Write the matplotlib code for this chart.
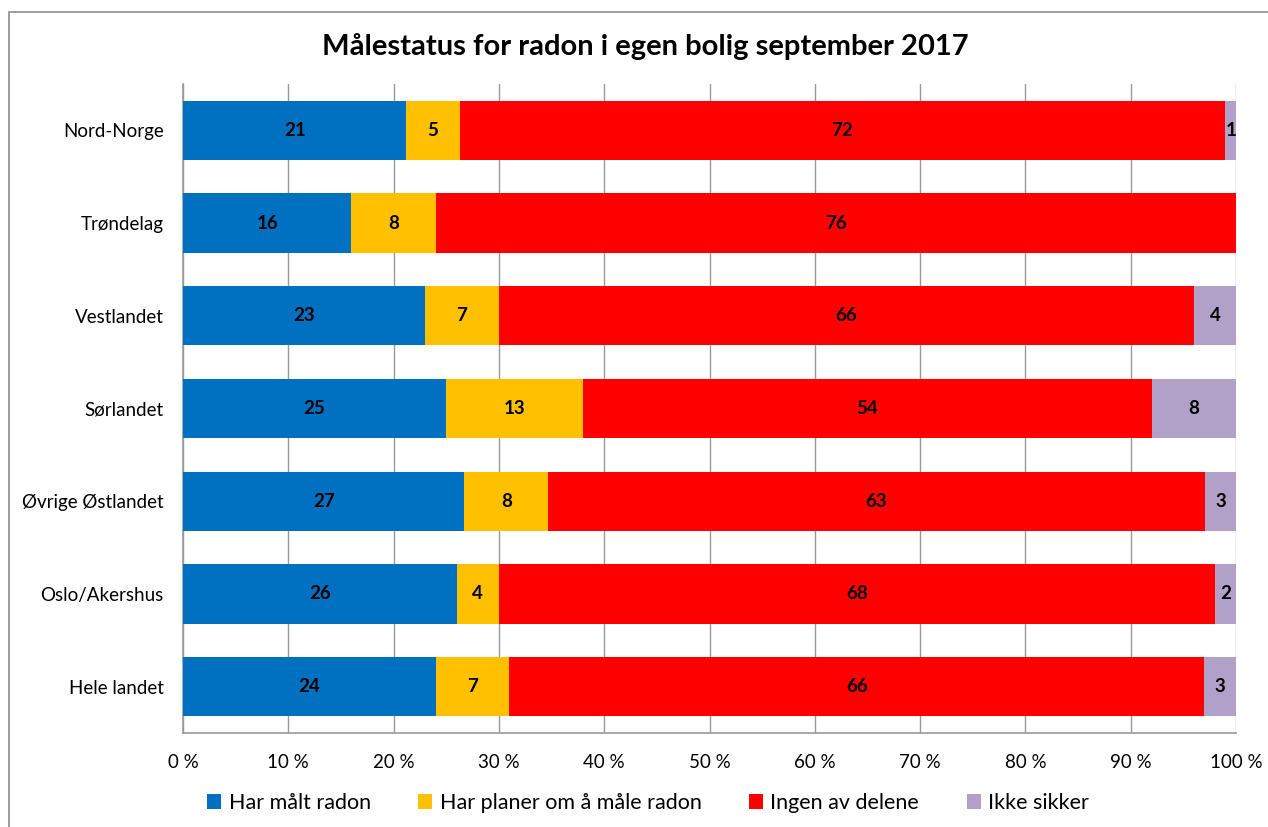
import numpy as np
import matplotlib.pyplot as plt
from matplotlib.patches import Rectangle

regions = ['Nord-Norge', 'Trøndelag', 'Vestlandet', 'Sørlandet',
           'Øvrige Østlandet', 'Oslo/Akershus', 'Hele landet']
har_malt = [21, 16, 23, 25, 27, 26, 24]
har_planer = [5, 8, 7, 13, 8, 4, 7]
ingen = [72, 76, 66, 54, 63, 68, 66]
ikke_sikker = [1, 0, 4, 8, 3, 2, 3]

series_names = ['Har målt radon', 'Har planer om å måle radon',
                'Ingen av delene', 'Ikke sikker']
colors = ['#0070C0', '#FFC000', '#FF0000', '#B1A0C7']
ticks = np.arange(0, 101, 10)
tick_labels = [f'{t} %' for t in ticks]

plt.rcParams['font.family'] = ['Lato', 'DejaVu Sans']

data = np.array([har_malt, har_planer, ingen, ikke_sikker], dtype=float)
totals = data.sum(axis=0)
pct = data / totals * 100

fig = plt.figure(figsize=(12.68, 8.27), dpi=100)
ax = fig.add_axes([183 / 1268, 1 - 733 / 827, (1236 - 183) / 1268, (733 - 84) / 827])

# chart border (clipped at right/bottom like the screenshot)
fig.patches.append(Rectangle((9 / 1268, -0.1), 1.2, 1.1 - 12 / 827,
                             transform=fig.transFigure, fill=False,
                             edgecolor='#8c8c8c', linewidth=1.2))

y = np.arange(len(regions))
left = np.zeros(len(regions))
for i in range(4):
    bars = ax.barh(y, pct[i], left=left, height=0.64, color=colors[i],
                   label=series_names[i], zorder=3)
    for j, b in enumerate(bars):
        if data[i, j] > 0:
            ax.text(left[j] + pct[i, j] / 2, y[j], f'{int(data[i, j])}',
                    ha='center', va='center', fontsize=13.5,
                    fontweight='bold', color='black', zorder=4)
    left += pct[i]

ax.set_xlim(0, 100)
ax.set_ylim(len(regions) - 0.5, -0.5)
ax.set_xticks(ticks)
ax.set_xticklabels(tick_labels, fontsize=13.5)
ax.set_yticks(y)
ax.set_yticklabels(regions, fontsize=13.5)
ax.tick_params(axis='both', length=0)
ax.tick_params(axis='x', pad=15)
ax.tick_params(axis='y', pad=14)
ax.grid(axis='x', color='#999999', linewidth=1.0, zorder=0)
for s in ['top', 'right']:
    ax.spines[s].set_visible(False)
for s in ['left', 'bottom']:
    ax.spines[s].set_color('#999999')
    ax.spines[s].set_linewidth(1.2)

fig.text(645 / 1268, 1 - 46 / 827, 'Målestatus for radon i egen bolig september 2017',
         ha='center', va='center', fontsize=21, fontweight='bold')

fig.legend(loc='center', bbox_to_anchor=(648 / 1268, 1 - 803 / 827), ncol=4,
           frameon=False, fontsize=15.5, handlelength=0.65, handleheight=0.65,
           handletextpad=0.35, columnspacing=2.2)

fig.savefig('out.png', dpi=100)
